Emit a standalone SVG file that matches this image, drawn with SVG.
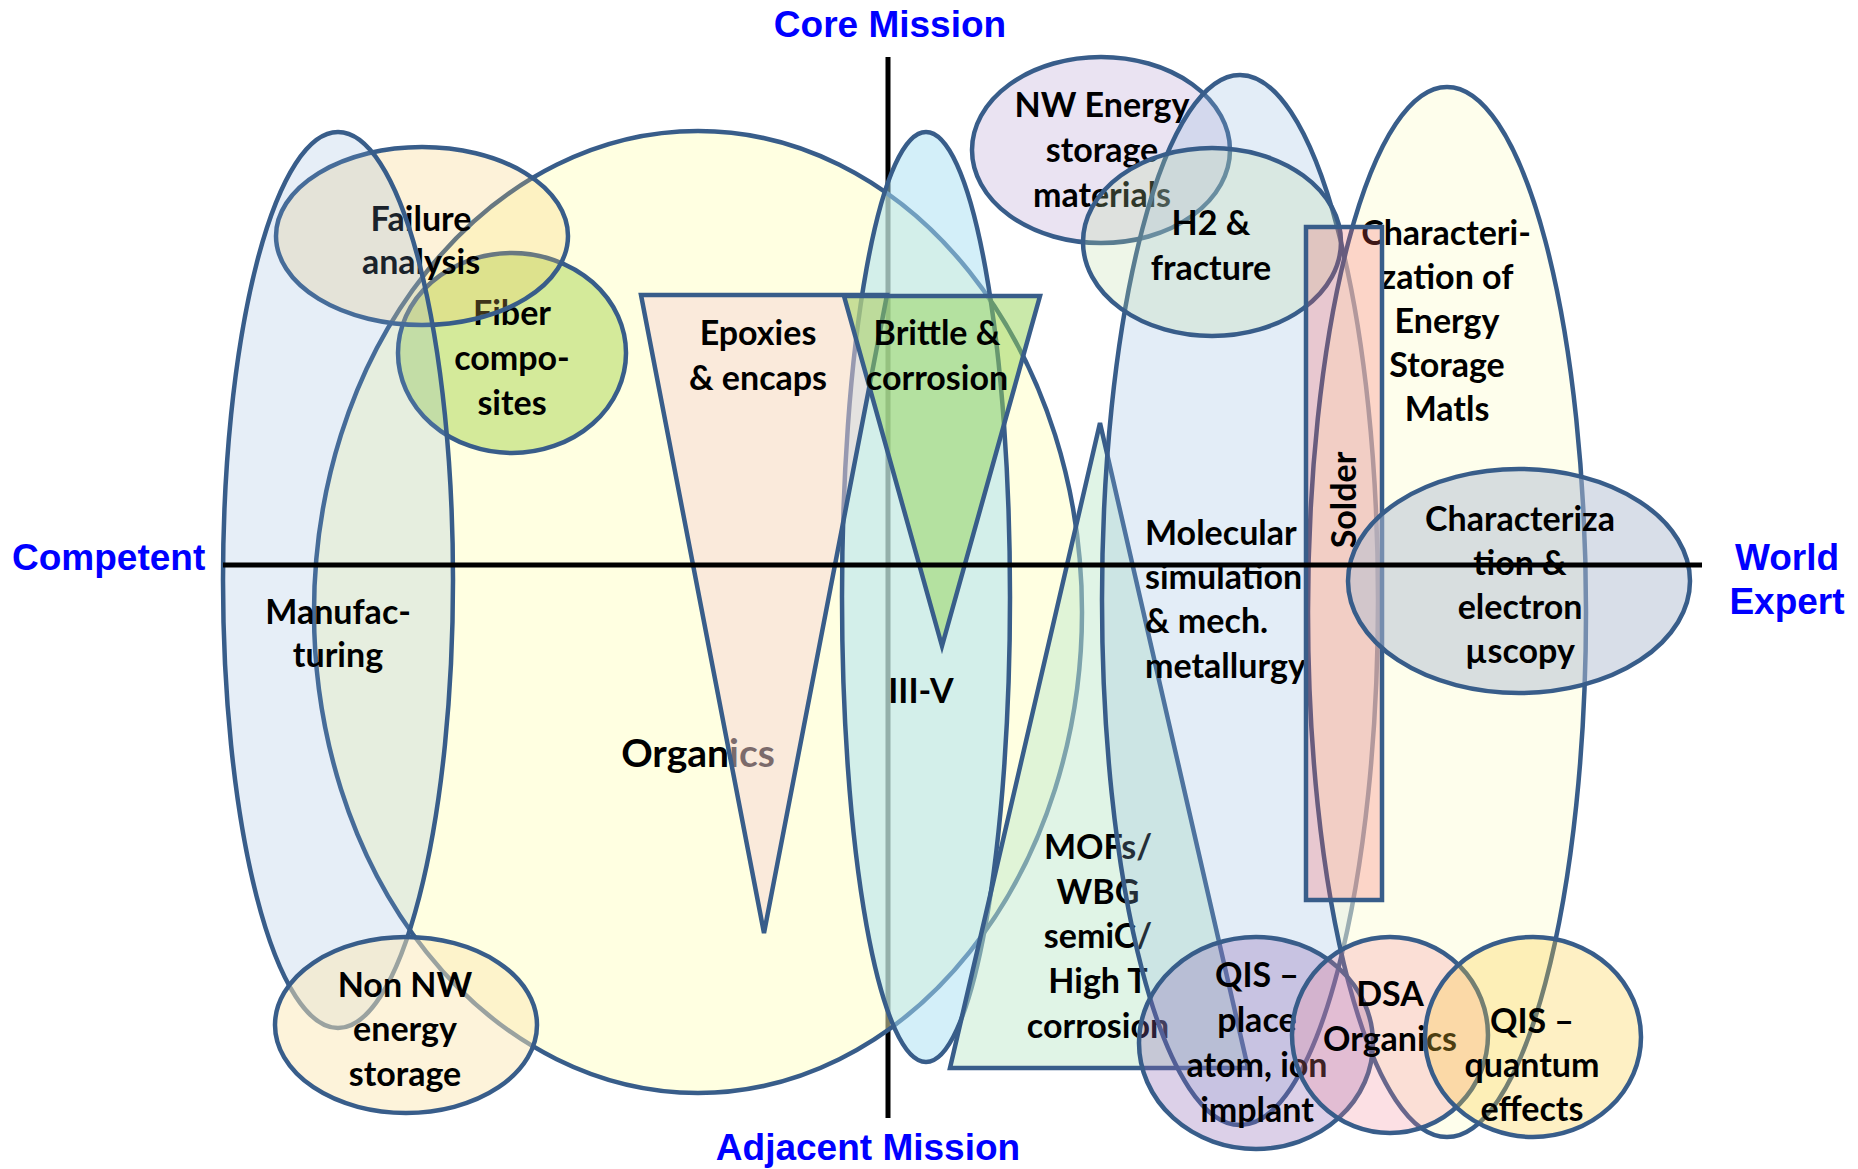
<svg xmlns="http://www.w3.org/2000/svg" width="1858" height="1169" viewBox="0 0 1858 1169">
<style>
.s{stroke:#385D8A;stroke-width:4.5;stroke-linejoin:miter}
.t{font-family:Lato,"Liberation Sans",sans-serif;font-weight:700;font-size:34px;text-anchor:middle;fill:#000}
.l{text-anchor:start}
.ax{stroke:#000;stroke-width:5}
.lbl{font-family:"Liberation Sans",Arial,sans-serif;font-weight:700;font-size:37px;fill:#0000FF;text-anchor:middle}
</style>
<rect width="1858" height="1169" fill="#fff"/>
<g id="axis-vertical"><line class="ax" x1="888" y1="57" x2="888" y2="1118"/></g>
<g id="organics"><ellipse class="s" cx="698" cy="612" rx="384" ry="481" fill="#FFFFC3" fill-opacity="0.5"/><text class="t" x="698" y="767" style="font-size:39px">Organics</text></g>
<g id="fiber"><ellipse class="s" cx="512" cy="353" rx="114" ry="100" fill="#A9D553" fill-opacity="0.5"/><text class="t"><tspan x="512" y="325">Fiber</tspan><tspan x="512" y="370">compo-</tspan><tspan x="512" y="415">sites</tspan></text></g>
<g id="failure"><ellipse class="s" cx="422" cy="236" rx="146" ry="89" fill="#F7CB67" fill-opacity="0.25"/><text class="t"><tspan x="421" y="231">Failure</tspan><tspan x="421" y="274">analysis</tspan></text></g>
<g id="manufacturing"><ellipse class="s" cx="338" cy="580" rx="115" ry="448" fill="#82AAD7" fill-opacity="0.2"/><text class="t"><tspan x="338" y="624">Manufac-</tspan><tspan x="338" y="667">turing</tspan></text></g>
<g id="iii-v"><ellipse class="s" cx="926" cy="597" rx="84" ry="465" fill="#A7DFF3" fill-opacity="0.5"/><text class="t" x="921" y="703">III-V</text></g>
<g id="epoxies"><polygon class="s" points="641,295 887,295 764,933" fill="#F6D6D6" fill-opacity="0.5"/><text class="t"><tspan x="758" y="345">Epoxies</tspan><tspan x="758" y="390">&amp; encaps</tspan></text></g>
<g id="brittle"><polygon class="s" points="844,296 1040,296 942,646" fill="#95D356" fill-opacity="0.5"/><text class="t"><tspan x="937" y="345">Brittle &amp;</tspan><tspan x="937" y="390">corrosion</tspan></text></g>
<g id="mofs"><polygon class="s" points="1100,423 950,1068 1248,1068" fill="#C1E9CD" fill-opacity="0.5"/><text class="t"><tspan x="1098" y="859">MOFs/</tspan><tspan x="1098" y="904">WBG</tspan><tspan x="1098" y="948">semiC/</tspan><tspan x="1098" y="993">High T</tspan><tspan x="1098" y="1038">corrosion</tspan></text></g>
<g id="nw-energy"><ellipse class="s" cx="1101" cy="150" rx="129" ry="93" fill="#AB8FCB" fill-opacity="0.25"/><text class="t"><tspan x="1102" y="117">NW Energy</tspan><tspan x="1102" y="162">storage</tspan><tspan x="1102" y="207">materials</tspan></text></g>
<g id="molecular"><ellipse class="s" cx="1240" cy="600" rx="138" ry="525" fill="#8FB7DF" fill-opacity="0.25"/><text class="t l"><tspan x="1145" y="545">Molecular</tspan><tspan x="1145" y="589">simulation</tspan><tspan x="1145" y="633">&amp; mech.</tspan><tspan x="1145" y="678">metallurgy</tspan></text></g>
<g id="h2"><ellipse class="s" cx="1212" cy="242" rx="129" ry="94" fill="#BBDBA3" fill-opacity="0.25"/><text class="t"><tspan x="1211" y="235">H2 &amp;</tspan><tspan x="1211" y="280">fracture</tspan></text></g>
<g id="char-energy"><ellipse class="s" cx="1447" cy="612" rx="139" ry="525" fill="#FDFDD9" fill-opacity="0.5"/><text class="t"><tspan x="1446" y="245">Characteri-</tspan><tspan x="1447" y="289">zation of</tspan><tspan x="1447" y="333">Energy</tspan><tspan x="1447" y="377">Storage</tspan><tspan x="1447" y="421">Matls</tspan></text></g>
<g id="solder"><rect class="s" x="1306" y="227" width="76" height="673" fill="#F95A5C" fill-opacity="0.25"/><text class="t" transform="translate(1356,500) rotate(-90)" x="0" y="0">Solder</text></g>
<g id="char-electron"><ellipse class="s" cx="1519" cy="581" rx="171" ry="112" fill="#B1BDD1" fill-opacity="0.5"/><text class="t"><tspan x="1520" y="531">Characteriza</tspan><tspan x="1520" y="575">tion &amp;</tspan><tspan x="1520" y="619">electron</tspan><tspan x="1520" y="663">µscopy</tspan></text></g>
<g id="qis-place"><ellipse class="s" cx="1256" cy="1043" rx="117" ry="106" fill="#8A62B2" fill-opacity="0.3"/><text class="t"><tspan x="1257" y="987">QIS –</tspan><tspan x="1257" y="1032">place</tspan><tspan x="1257" y="1077">atom, ion</tspan><tspan x="1257" y="1122">implant</tspan></text></g>
<g id="dsa"><ellipse class="s" cx="1390" cy="1035" rx="98" ry="98" fill="#F38393" fill-opacity="0.25"/><text class="t"><tspan x="1390" y="1006">DSA</tspan><tspan x="1390" y="1051">Organics</tspan></text></g>
<g id="qis-quantum"><ellipse class="s" cx="1533" cy="1037" rx="108" ry="100" fill="#FCCD3A" fill-opacity="0.3"/><text class="t"><tspan x="1532" y="1033">QIS –</tspan><tspan x="1532" y="1077">quantum</tspan><tspan x="1532" y="1121">effects</tspan></text></g>
<g id="non-nw"><ellipse class="s" cx="406" cy="1025" rx="131" ry="88" fill="#FBE7B5" fill-opacity="0.5"/><text class="t"><tspan x="405" y="997">Non NW</tspan><tspan x="405" y="1041">energy</tspan><tspan x="405" y="1086">storage</tspan></text></g>
<g id="axis-horizontal"><line class="ax" x1="223" y1="565" x2="1702" y2="565"/></g>
<g id="labels">
<text class="lbl" x="890" y="37">Core Mission</text>
<text class="lbl" x="868" y="1160">Adjacent Mission</text>
<text class="lbl" x="12" y="570" style="text-anchor:start">Competent</text>
<text class="lbl"><tspan x="1787" y="570">World</tspan><tspan x="1787" y="614">Expert</tspan></text>
</g>
</svg>
